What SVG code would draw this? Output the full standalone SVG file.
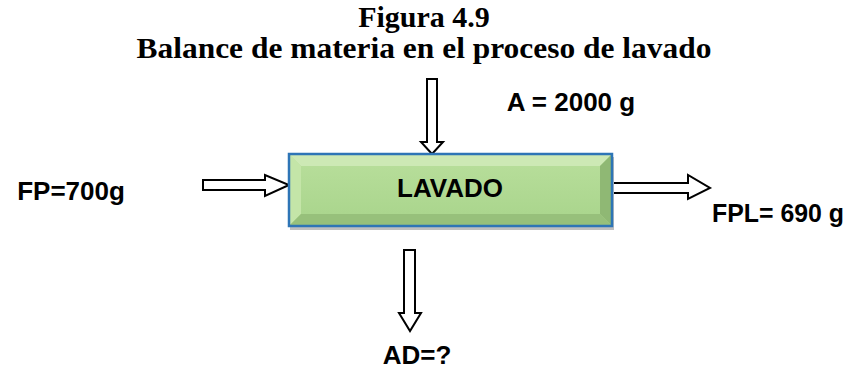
<svg xmlns="http://www.w3.org/2000/svg" width="849" height="374" viewBox="0 0 849 374">
<defs>
<style>
.title{font-family:"Liberation Serif","Times New Roman",serif;font-weight:bold;font-size:30px;fill:#000}
.lbl{font-family:"Liberation Sans",Arial,sans-serif;font-weight:bold;font-size:26px;fill:#000}
.arrow{fill:#fff;stroke:#000;stroke-width:2;stroke-linejoin:miter}
</style>
<linearGradient id="face" x1="0" y1="0" x2="0" y2="1">
<stop offset="0" stop-color="#b9df9c"/>
<stop offset="1" stop-color="#a8d48b"/>
</linearGradient>
</defs>
<text class="title" x="424" y="27" text-anchor="middle">Figura 4.9</text>
<text class="title" x="424" y="58" text-anchor="middle" textLength="575" lengthAdjust="spacingAndGlyphs">Balance de materia en el proceso de lavado</text>
<g id="connectors">
<polygon class="arrow" points="427,79 437,79 437,142 443,142 432,154 421,142 427,142"/>
<polygon class="arrow" points="203,180 265,180 265,175 289,185 265,196 265,190 203,190"/>
<polygon class="arrow" points="612,183 688,183 688,175 710,188 688,199 688,193 612,193"/>
<polygon class="arrow" points="404,250 415,250 415,313 421,313 410,331 399,313 404,313"/>
</g>
<g id="lavado">
<rect x="290" y="157" width="324" height="73" fill="#bfbfbf"/>
<rect x="289" y="154" width="323" height="72" fill="url(#face)"/>
<polygon points="289,154 612,154 600,166 301,166" fill="#cde9b5"/>
<polygon points="289,154 301,166 301,214 289,226" fill="#c4e5a8"/>
<polygon points="612,154 612,226 600,214 600,166" fill="#8fb874"/>
<polygon points="289,226 612,226 600,214 301,214" fill="#97c07b"/>
<rect x="289" y="154" width="323" height="72" fill="none" stroke="#2e75b6" stroke-width="2.5"/>
<text class="lbl" x="450" y="197" text-anchor="middle">LAVADO</text>
</g>
<g id="A"><text class="lbl" x="571" y="111" text-anchor="middle">A = 2000 g</text></g>
<g id="FP"><text class="lbl" x="71" y="200" text-anchor="middle">FP=700g</text></g>
<g id="FPL"><text class="lbl" x="712" y="222" textLength="132" lengthAdjust="spacingAndGlyphs">FPL= 690 g</text></g>
<g id="AD"><text class="lbl" x="417" y="364" text-anchor="middle">AD=?</text></g>
</svg>
